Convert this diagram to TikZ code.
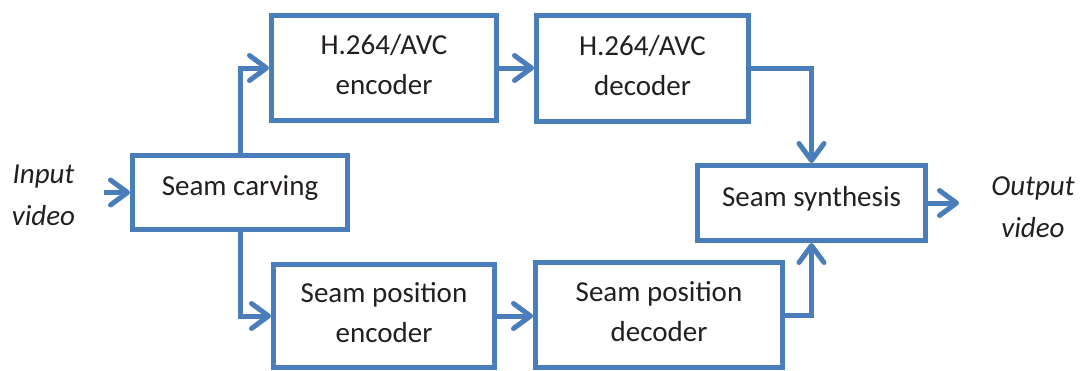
\documentclass[tikz,border=0pt]{standalone}
\usepackage{fontspec}
\setmainfont{Carlito}
\usetikzlibrary{arrows.meta}
\definecolor{flowblue}{HTML}{4A7EBB}
\definecolor{ink}{HTML}{231F20}
\tikzset{
  blockbox/.style={draw=flowblue, line width=5pt, rectangle, inner sep=0pt,
    align=center, text=ink, font=\fontsize{29}{40}\selectfont},
  % fixed text boxes so the baselines sit where they should
  oneline/.style={text height=22pt, text depth=16pt},
  twoline/.style={text height=62pt, text depth=9pt},
  flow/.style={draw=flowblue, line width=5pt, line join=miter,
    -{Straight Barb[length=17pt, width=25pt, round]}},
  iolabel/.style={align=center, text=ink, inner sep=0pt,
    text height=64pt, text depth=4pt,
    font=\fontsize{29}{42}\selectfont\itshape}
}
\begin{document}
\begin{tikzpicture}[x=1pt, y=-1pt]
  \useasboundingbox (0,0) rectangle (1081,370);

  % processing blocks
  \node[blockbox, oneline, minimum width=215pt, minimum height=74pt]  (carve) at (240,192.5) {Seam carving};
  \node[blockbox, twoline, minimum width=225pt, minimum height=105pt] (henc)  at (384,68)    {H.264/AVC\\encoder};
  \node[blockbox, twoline, minimum width=212pt, minimum height=106pt] (hdec)  at (642.5,68.5) {H.264/AVC\\decoder};
  \node[blockbox, oneline, minimum width=228pt, minimum height=75pt]  (synth) at (811.5,203) {Seam synthesis};
  \node[blockbox, twoline, minimum width=221pt, minimum height=103pt] (spenc) at (384,316)   {Seam position\\encoder};
  \node[blockbox, twoline, minimum width=247pt, minimum height=105pt] (spdec) at (659,315)   {Seam position\\decoder};

  % input / output labels
  \node[iolabel] (inlabel)  at (43.5,195) {Input\\video};
  \node[iolabel] (outlabel) at (1033,207) {Output\\video};

  \coordinate (src) at (104,192.5);
  \coordinate (dst) at (959,203);

  % connectors
  \draw[flow] (src) -- (carve.west);
  \draw[flow] (carve.north) |- (henc.west);
  \draw[flow] (henc.east) -- (hdec.west |- henc.east);
  \draw[flow] (hdec.east) -| (synth.north);
  \draw[flow] (carve.south) |- (spenc.west);
  \draw[flow] (spenc.east) -- (spdec.west |- spenc.east);
  \draw[flow] (spdec.east) -| (synth.south);
  \draw[flow] (synth.east) -- (dst);
\end{tikzpicture}
\end{document}
